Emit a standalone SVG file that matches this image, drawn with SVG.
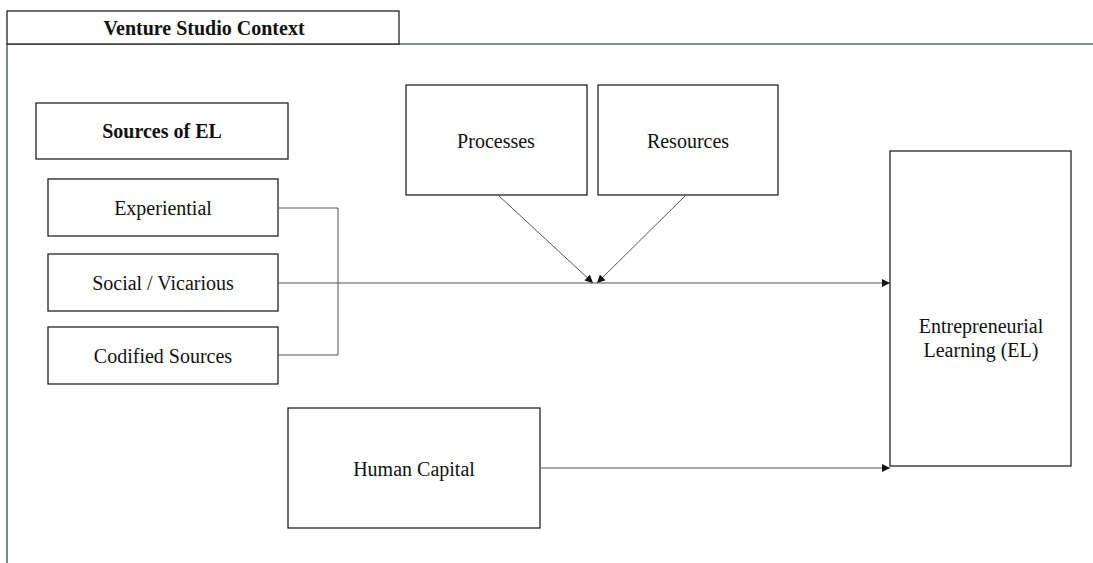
<svg xmlns="http://www.w3.org/2000/svg" width="1093" height="563" viewBox="0 0 1093 563">
<style>
.box{fill:#fff;stroke:#222;stroke-width:1.3}
.t{font-family:"Liberation Serif","Times New Roman",serif;font-size:20px;fill:#111;text-anchor:middle;dominant-baseline:central}
.b{font-weight:bold;font-size:20px}
.c{fill:none;stroke:#555;stroke-width:1}
.frame{fill:none;stroke:#5a6785;stroke-width:1.6}
</style>
<defs>
<marker id="ah" viewBox="0 0 10 10" refX="10" refY="5" markerWidth="8" markerHeight="8" markerUnits="userSpaceOnUse" orient="auto">
<path d="M0,0 L10,5 L0,10 z" fill="#111"/>
</marker>
</defs>
<rect width="1093" height="563" fill="#fff"/>
<path class="frame" d="M1093,44 H7 V563"/>
<g id="title"><rect class="box" x="7" y="11" width="392" height="33"/><text class="t b" x="204" y="28">Venture Studio Context</text></g>
<g id="sources"><rect class="box" x="36" y="103" width="252" height="56"/><text class="t b" x="162" y="131">Sources of EL</text></g>
<g id="experiential"><rect class="box" x="48" y="179" width="230" height="57"/><text class="t" x="163" y="208">Experiential</text></g>
<g id="social"><rect class="box" x="48" y="254" width="230" height="57"/><text class="t" x="163" y="283">Social / Vicarious</text></g>
<g id="codified"><rect class="box" x="48" y="327" width="230" height="57"/><text class="t" x="163" y="356">Codified Sources</text></g>
<g id="processes"><rect class="box" x="406" y="85" width="181" height="110"/><text class="t" x="496" y="141">Processes</text></g>
<g id="resources"><rect class="box" x="598" y="85" width="180" height="110"/><text class="t" x="688" y="141">Resources</text></g>
<g id="el"><rect class="box" x="890" y="151" width="181" height="315"/><text class="t" x="981" y="326">Entrepreneurial</text><text class="t" x="981" y="350">Learning (EL)</text></g>
<g id="human"><rect class="box" x="288" y="408" width="252" height="120"/><text class="t" x="414" y="469">Human Capital</text></g>
<g id="connectors">
<path class="c" d="M278,208 H338 V355 H278"/>
<path class="c" stroke="#888" d="M278,283 H890" marker-end="url(#ah)"/>
<path class="c" d="M498,195 L593,283" marker-end="url(#ah)"/>
<path class="c" d="M686,195 L597,283" marker-end="url(#ah)"/>
<path class="c" d="M540,468 H890" marker-end="url(#ah)"/>
</g>
</svg>
